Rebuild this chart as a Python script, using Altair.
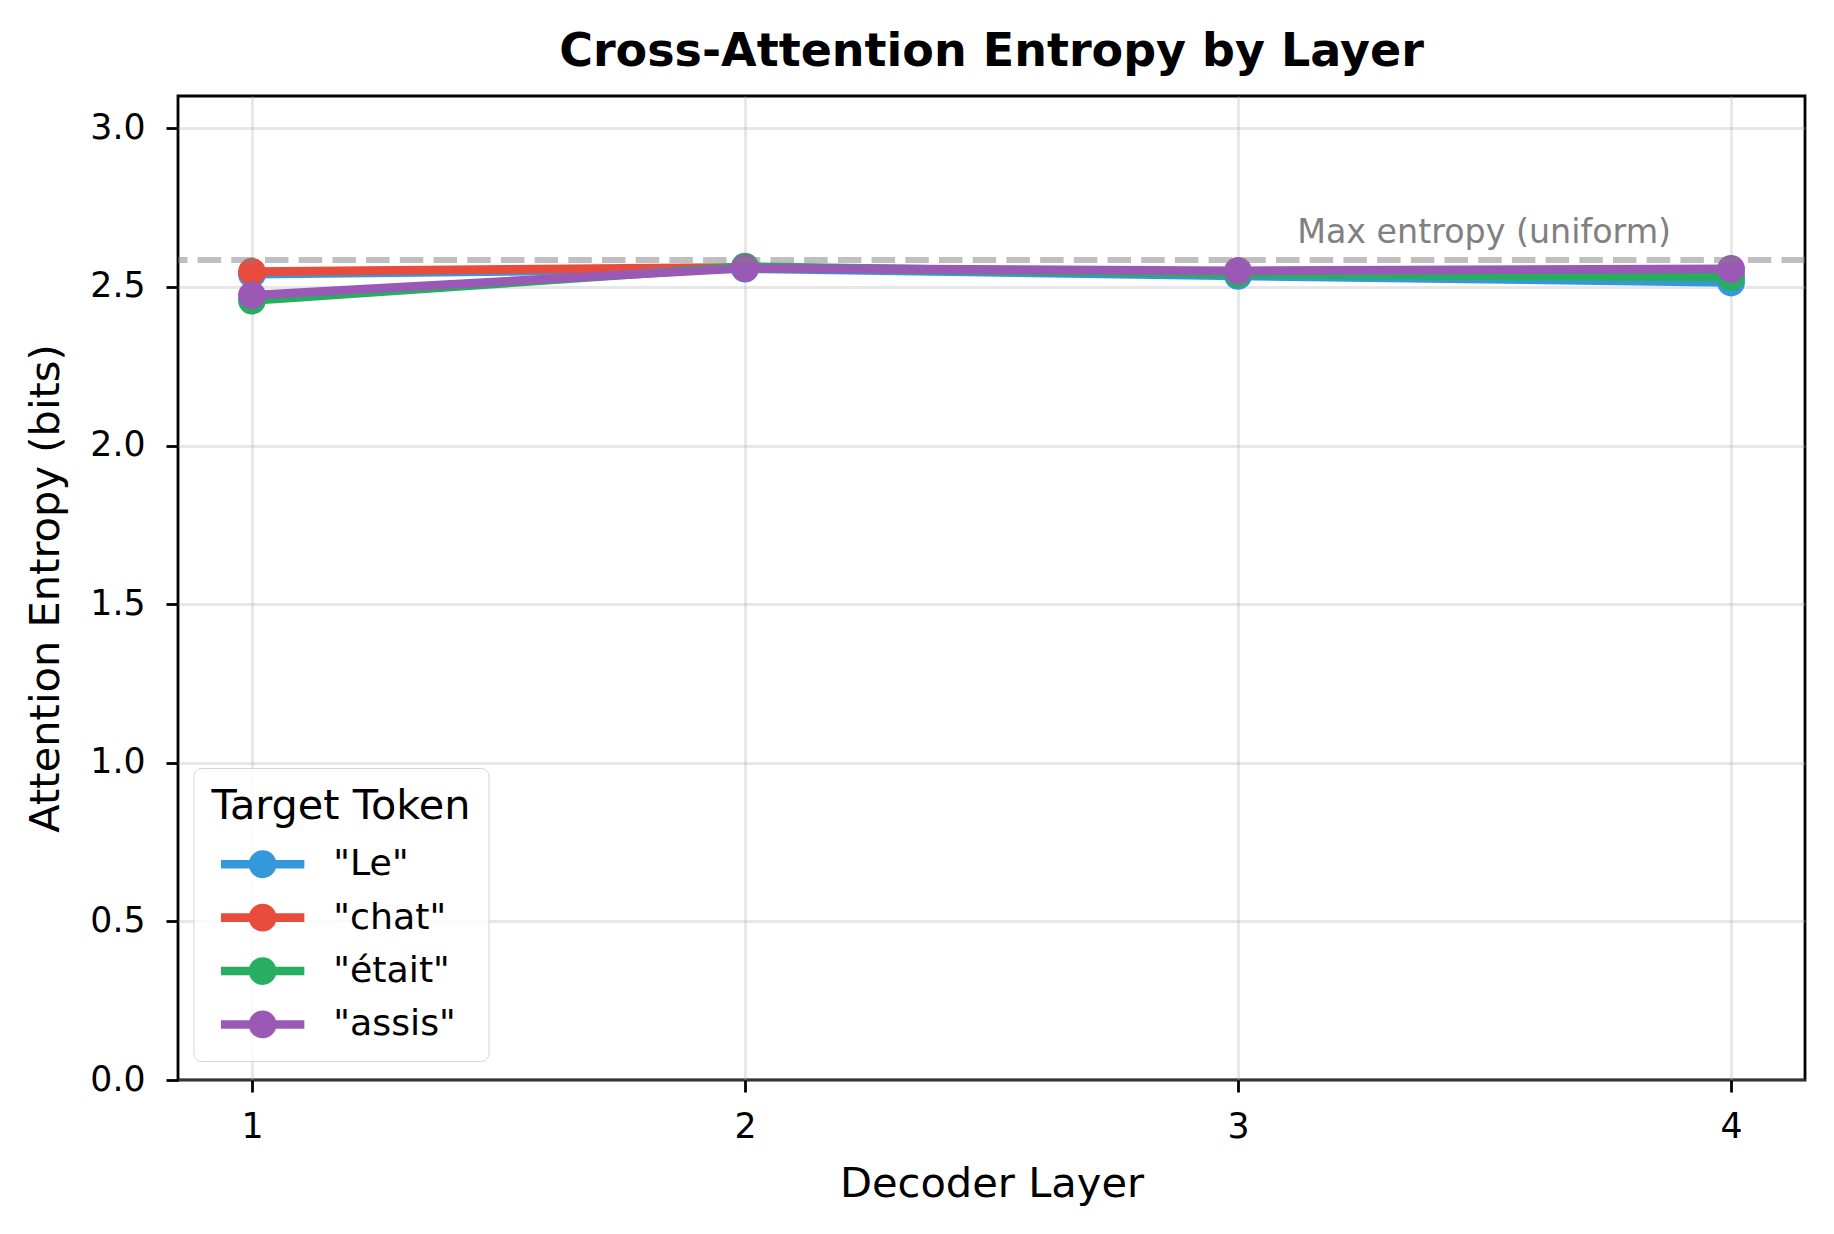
import altair as alt
import pandas as pd

# decoder layers and target tokens
layers = [1, 2, 3, 4]
tokens = ['"Le"', '"chat"', '"était"', '"assis"']
colors = ["#3498db", "#e74c3c", "#27ae60", "#9b59b6"]

# attention entropy (bits) per token
entropy_le = [2.540, 2.558, 2.535, 2.514]
entropy_chat = [2.548, 2.562, 2.543, 2.550]
entropy_etait = [2.457, 2.564, 2.541, 2.531]
entropy_assis = [2.474, 2.559, 2.551, 2.557]

max_entropy = 2.585  # log2(6), uniform attention
y_ticks = [0.0, 0.5, 1.0, 1.5, 2.0, 2.5, 3.0]
note_text = ["Max entropy (uniform)"]
note_x = [3.12]
note_y = [2.64]

FONT = "DejaVu Sans"

series = [entropy_le, entropy_chat, entropy_etait, entropy_assis]
rows = []
for tok, vals in zip(tokens, series):
    for layer, v in zip(layers, vals):
        rows.append({"layer": layer, "entropy": v, "token": tok})
df = pd.DataFrame(rows)

x_enc = alt.X("layer:Q",
              scale=alt.Scale(domain=[0.85, 4.15], nice=False, zero=False),
              axis=alt.Axis(values=layers, format="d", title="Decoder Layer",
                            labelPadding=18, titlePadding=20))
y_enc = alt.Y("entropy:Q",
              scale=alt.Scale(domain=[0, max_entropy * 1.2], nice=False),
              axis=alt.Axis(values=y_ticks, format=".1f", title="Attention Entropy (bits)",
                            labelPadding=21, titlePadding=22))

# line + circle legend glyph (custom path, unit = circle radius)
legend_glyph = "M-3,-0.31L3,-0.31L3,0.31L-3,0.31Z M1,0A1,1 0 1,1 -1,0A1,1 0 1,1 1,0Z"

color_enc = alt.Color("token:N",
                      scale=alt.Scale(domain=tokens, range=colors),
                      legend=alt.Legend(title="Target Token", orient="none",
                                        legendX=15.5, legendY=672,
                                        symbolType=legend_glyph, symbolSize=773,
                                        symbolStrokeWidth=0, symbolOffset=33,
                                        labelOffset=52.5, rowPadding=16.4, titlePadding=18.7,
                                        padding=18, cornerRadius=8, titleLimit=500,
                                        strokeColor="#d5d5d5",
                                        fillColor="rgba(255,255,255,0.8)"))

layers_list = []
for tok in tokens:
    sub = alt.Chart(df).transform_filter(alt.FieldEqualPredicate(field="token", equal=tok))
    layers_list.append(sub.mark_line(strokeWidth=8.7).encode(x=x_enc, y=y_enc, color=color_enc))
    layers_list.append(sub.mark_point(filled=True, size=773, opacity=1).encode(
        x=x_enc, y=y_enc, color=color_enc))

ref_df = pd.DataFrame({"y": [max_entropy]})
max_line = alt.Chart(ref_df).mark_rule(
    color="#808080", opacity=0.5, strokeWidth=6, strokeDash=[23.5, 10.2]
).encode(y="y:Q")

note_df = pd.DataFrame({"x": note_x, "y": note_y, "text": note_text})
note = alt.Chart(note_df).mark_text(
    align="left", baseline="alphabetic", fontSize=33.3, font=FONT, color="#808080"
).encode(x="x:Q", y="y:Q", text="text:N")

chart = alt.layer(*layers_list, max_line, note).properties(
    width=1627,
    height=984,
    title=alt.TitleParams("Cross-Attention Entropy by Layer", fontSize=46, fontWeight="bold",
                          font=FONT, anchor="middle", baseline="alphabetic", offset=-16,
                          color="black"),
    autosize=alt.AutoSizeParams(type="none"),
    padding={"left": 170, "top": 88, "right": 21, "bottom": 154},
).configure_view(
    stroke="black", strokeWidth=2.8
).configure_axis(
    labelFont=FONT, titleFont=FONT, labelFontSize=34.7, titleFontSize=41.6,
    titleFontWeight="normal", labelColor="black", titleColor="black",
    tickColor="black", tickWidth=2.8, tickSize=12, domain=False,
    gridColor="#b0b0b0", gridOpacity=0.3, gridWidth=2.8
).configure_legend(
    titleFont=FONT, labelFont=FONT, titleFontSize=41.4, labelFontSize=36.3,
    titleFontWeight="normal", titleColor="black", labelColor="black"
)

chart.save("out.html", embed_options={"renderer": "svg", "actions": False})
